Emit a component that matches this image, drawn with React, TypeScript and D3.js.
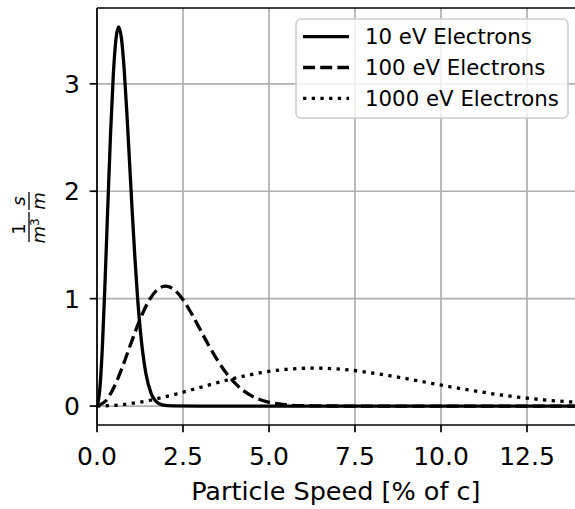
import React from "react";
import * as d3 from "d3";

// Maxwell–Boltzmann speed distributions of electrons, sampled along speed (% of c)
const speed10 = [0, 0.079, 0.158, 0.236, 0.315, 0.394, 0.473, 0.551, 0.63, 0.709, 0.788, 0.866, 0.945, 1.024, 1.103, 1.181, 1.26, 1.418, 1.575, 1.733, 1.89, 2.205, 3.0, 5.0, 8.0, 11.0, 14.5];
const density10 = [0, 0.148, 0.563, 1.172, 1.868, 2.537, 3.076, 3.416, 3.53, 3.426, 3.143, 2.74, 2.276, 1.807, 1.375, 1.003, 0.703, 0.308, 0.116, 0.038, 0.011, 0.001, 0, 0, 0, 0, 0];

const speed100 = [0, 0.249, 0.498, 0.747, 0.996, 1.245, 1.494, 1.743, 1.992, 2.241, 2.49, 2.739, 2.988, 3.237, 3.486, 3.735, 3.984, 4.482, 4.98, 5.478, 5.976, 6.972, 9.0, 12.0, 14.5];
const density100 = [0, 0.047, 0.178, 0.371, 0.591, 0.802, 0.973, 1.08, 1.116, 1.084, 0.994, 0.866, 0.719, 0.571, 0.435, 0.317, 0.222, 0.097, 0.037, 0.012, 0.003, 0.0002, 0, 0, 0];

const speed1000 = [0, 0.788, 1.575, 2.363, 3.15, 3.938, 4.725, 5.513, 6.3, 7.088, 7.875, 8.663, 9.45, 10.238, 11.025, 11.813, 12.6, 13.388, 14.175];
const density1000 = [0, 0.015, 0.056, 0.117, 0.187, 0.254, 0.308, 0.342, 0.353, 0.343, 0.314, 0.274, 0.228, 0.181, 0.138, 0.1, 0.07, 0.047, 0.031];

const seriesLabels = ["10 eV Electrons", "100 eV Electrons", "1000 eV Electrons"];
const xTicks = [0, 2.5, 5, 7.5, 10, 12.5];
const yTicks = [0, 1, 2, 3];

const W = 575;
const H = 509;
const left = 97;
const top = 8;
const bottom = 425;

const FONT = "DejaVu Sans, sans-serif";

export default function App() {
  const x = d3.scaleLinear().domain([0, 14]).range([left, left + 14 * 34.4]);
  const y = d3.scaleLinear().domain([-0.1765, 3.706]).range([bottom, top]);
  const right = x(14);

  const line = d3
    .line<[number, number]>()
    .x((d) => x(d[0]))
    .y((d) => y(d[1]))
    .curve(d3.curveMonotoneX);

  const series = [
    { xs: speed10, ys: density10, dash: undefined as string | undefined },
    { xs: speed100, ys: density100, dash: "12 5.2" },
    { xs: speed1000, ys: density1000, dash: "3.3 5.4" },
  ];

  const lw = 3.3;

  return (
    <svg
      width={W}
      height={H}
      viewBox={`0 0 ${W} ${H}`}
      style={{ position: "absolute", left: 0, top: 0, background: "#fff" }}
      fontFamily={FONT}
    >
      <defs>
        <clipPath id="plot-area">
          <rect x={left} y={top} width={right - left} height={bottom - top} />
        </clipPath>
      </defs>
      <rect x={0} y={0} width={W} height={H} fill="#fff" />

      {/* grid */}
      <g stroke="#b0b0b0" strokeWidth={1.7}>
        {xTicks.map((t) => (
          <line key={"gx" + t} x1={x(t)} x2={x(t)} y1={top} y2={bottom} />
        ))}
        {yTicks.map((t) => (
          <line key={"gy" + t} x1={left} x2={right} y1={y(t)} y2={y(t)} />
        ))}
      </g>

      {/* curves */}
      <g clipPath="url(#plot-area)" fill="none" stroke="#000" strokeWidth={lw}>
        {series.map((s, i) => (
          <path
            key={i}
            d={line(s.xs.map((v, j) => [v, s.ys[j]] as [number, number])) || ""}
            strokeDasharray={s.dash}
            strokeLinecap="butt"
            strokeLinejoin="round"
          />
        ))}
      </g>

      {/* spines */}
      <g stroke="#000" strokeWidth={1.7} fill="none">
        <line x1={left} x2={left} y1={top} y2={bottom} />
        <line x1={left} x2={right} y1={bottom} y2={bottom} />
        <line x1={left} x2={right} y1={top} y2={top} />
        <line x1={right} x2={right} y1={top} y2={bottom} />
      </g>

      {/* x axis */}
      <g>
        {xTicks.map((t) => (
          <g key={"xt" + t}>
            <line x1={x(t)} x2={x(t)} y1={bottom} y2={bottom + 7.3} stroke="#000" strokeWidth={1.7} />
            <text x={x(t)} y={465} textAnchor="middle" fontSize={25} fill="#000">
              {t.toFixed(1)}
            </text>
          </g>
        ))}
        <text x={(left + right) / 2 - 2} y={500} textAnchor="middle" fontSize={25.5} fill="#000">
          Particle Speed [% of c]
        </text>
      </g>

      {/* y axis */}
      <g>
        {yTicks.map((t) => (
          <g key={"yt" + t}>
            <line x1={left - 7.3} x2={left} y1={y(t)} y2={y(t)} stroke="#000" strokeWidth={1.7} />
            <text x={left - 17} y={y(t)} dy="0.36em" textAnchor="end" fontSize={25} fill="#000">
              {t}
            </text>
          </g>
        ))}
        {/* units: 1/m^3 · s/m */}
        <g transform="translate(29,214) rotate(-90)" fill="#000" fontSize={18}>
          <text x={-15} y={-4} textAnchor="middle">1</text>
          <line x1={-28} x2={2} y1={0} y2={0} stroke="#000" strokeWidth={1.3} />
          <text x={-17} y={16} textAnchor="middle" fontStyle="italic">
            m<tspan dy={-6} fontSize={12} fontStyle="normal">3</tspan>
          </text>
          <text x={13} y={-4} textAnchor="middle" fontStyle="italic">s</text>
          <line x1={4} x2={22} y1={0} y2={0} stroke="#000" strokeWidth={1.3} />
          <text x={13} y={16} textAnchor="middle" fontStyle="italic">m</text>
        </g>
      </g>

      {/* legend */}
      <g>
        <rect x={296} y={19} width={272} height={99} rx={5} fill="#fff" fillOpacity={0.8} stroke="#cccccc" strokeWidth={1.5} />
        {seriesLabels.map((label, i) => {
          const cy = 36.7 + i * 30.8;
          return (
            <g key={label}>
              <line x1={303} x2={349} y1={cy} y2={cy} stroke="#000" strokeWidth={lw} strokeDasharray={series[i].dash} />
              <text x={365} y={cy} dy="0.36em" fontSize={21.3} fill="#000">
                {label}
              </text>
            </g>
          );
        })}
      </g>
    </svg>
  );
}
